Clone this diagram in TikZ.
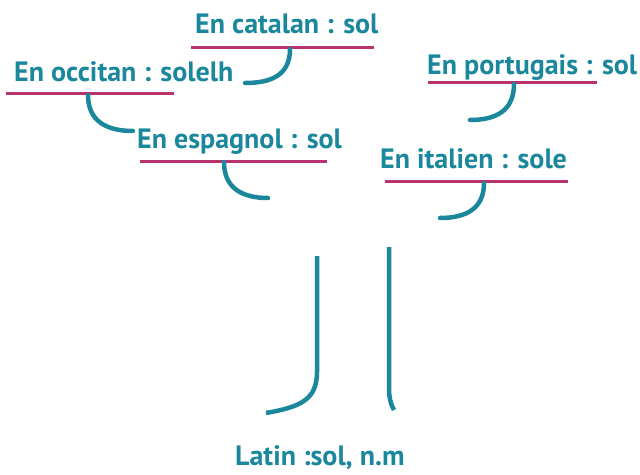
\documentclass[tikz,border=0pt]{standalone}
\usepackage{fontspec}
\setmainfont{PT Sans}
\definecolor{teal1}{HTML}{1A879C}
\definecolor{mag}{HTML}{B8326F}
\begin{document}
\begin{tikzpicture}[x=1pt,y=-1pt,
  lbl/.style={anchor=base west,inner sep=0pt,text=teal1,font=\fontsize{28}{32}\selectfont\bfseries},
  uline/.style={draw=mag,line width=3pt},
  conn/.style={draw=teal1,line width=4.5pt,line cap=round}]
\useasboundingbox (0,0) rectangle (640,474);
% labels
\node[lbl] (cat) at (195,33) {En catalan : sol};
\node[lbl] (occ) at (14,81) {En occitan : solelh};
\node[lbl] (esp) at (137,148) {En espagnol : sol};
\node[lbl] (por) at (427,74) {En portugais : sol};
\node[lbl] (ita) at (380,168) {En italien : sole};
\node[lbl] (lat) at (235,465) {Latin :sol, n.m};
% underlines
\coordinate (catL) at (191,47); \coordinate (catR) at (374,47);
\coordinate (occL) at (6,93);   \coordinate (occR) at (174,93);
\coordinate (espL) at (140,161); \coordinate (espR) at (327,161);
\coordinate (porL) at (428,82); \coordinate (porR) at (597,82);
\coordinate (itaL) at (385,181); \coordinate (itaR) at (568,181);
\draw[uline] (catL) -- (catR);
\draw[uline] (occL) -- (occR);
\draw[uline] (espL) -- (espR);
\draw[uline] (porL) -- (porR);
\draw[uline] (itaL) -- (itaR);
% connector curves
\coordinate (c1s) at (290,49); \coordinate (c1e) at (245,83);
\draw[conn] (c1s) .. controls (290,76) and (270,83) .. (c1e);
\coordinate (c2s) at (88,95); \coordinate (c2e) at (133,131);
\draw[conn] (c2s) .. controls (88,120) and (105,131) .. (c2e);
\coordinate (c3s) at (224,162); \coordinate (c3e) at (268,198);
\draw[conn] (c3s) .. controls (224,188) and (242,198) .. (c3e);
\coordinate (c4s) at (514,84); \coordinate (c4e) at (470,120);
\draw[conn] (c4s) .. controls (514,110) and (497,120) .. (c4e);
\coordinate (c5s) at (484,183); \coordinate (c5e) at (440,218);
\draw[conn] (c5s) .. controls (484,208) and (467,218) .. (c5e);
% trunks
\coordinate (t1s) at (317,256); \coordinate (t1e) at (266,413);
\draw[conn,line cap=butt] (t1s) -- (317,372) .. controls (317,400) and (300,407) .. (t1e);
\coordinate (t2s) at (389,247); \coordinate (t2e) at (394,410);
\draw[conn,line cap=butt] (t2s) -- (389,388) .. controls (389,398) and (391,405) .. (t2e);
\end{tikzpicture}
\end{document}
